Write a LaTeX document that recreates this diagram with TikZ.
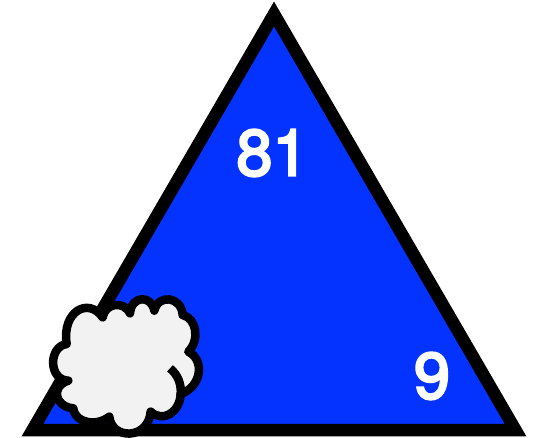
\documentclass[tikz,border=0pt]{standalone}
\usepackage{fontspec}
\setmainfont{Liberation Sans}
\newfontfamily\numfont[FakeBold=3.5]{TeX Gyre Heros}
\definecolor{triblue}{HTML}{0433FF}
\definecolor{cloudgrey}{HTML}{F2F2F2}
\tikzset{
  tri/.style={draw=black,fill=triblue,line width=12.5pt,miter limit=10,line join=miter},
  numlabel/.style={text=white,font=\numfont\fontsize{65}{65}\selectfont,inner sep=0pt,anchor=center},
  cloudshape/.style={draw=black,fill=cloudgrey,line width=8.5pt,line join=round},
  cloudline/.style={draw=black,line width=8.5pt,line cap=butt}
}
\begin{document}
\begin{tikzpicture}[x=1pt,y=-1pt]
\useasboundingbox (0,0) rectangle (538,437);
\fill[white] (0,0) rectangle (538,437);
\draw[tri] (274,14) -- (515.5,430) -- (32.5,430) -- cycle;
\node[numlabel] (a) at (272.5,153) {81};
\node[numlabel] (b) at (432,376) {9};
\begin{scope}[shift={(20,280)},x=0.3333pt,y=-0.3333pt]
\draw[cloudshape] (248,112)
 .. controls (255,70) and (310,60) .. (330,100)
 .. controls (335,45) and (395,45) .. (403,92)
 .. controls (415,40) and (485,50) .. (488,105)
 .. controls (530,115) and (540,180) .. (505,215)
 .. controls (555,240) and (545,320) .. (482,342)
 .. controls (480,395) and (430,430) .. (392,395)
 .. controls (385,480) and (275,480) .. (268,410)
 .. controls (230,440) and (165,430) .. (160,385)
 .. controls (105,380) and (90,320) .. (145,302)
 .. controls (85,300) and (85,200) .. (140,192)
 .. controls (125,95) and (205,50) .. (248,112)
 -- cycle;
\draw[cloudline] (450,265) .. controls (475,285) and (485,315) .. (482,345);
\end{scope}
\end{tikzpicture}
\end{document}
